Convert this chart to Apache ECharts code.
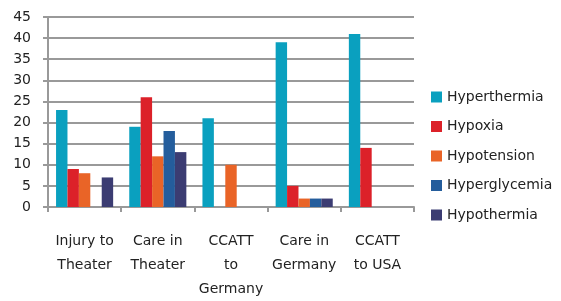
<!DOCTYPE html>
<html>
<head>
<meta charset="utf-8">
<title></title>
<script src="https://cdn.jsdelivr.net/npm/echarts@6/dist/echarts.min.js"></script>
</head>
<body style="margin:0;padding:0;background:#fff;">
<div id="main" style="width:561px;height:301px;"></div>
<script type="text/javascript">
var categories = ['Injury to\nTheater', 'Care in\nTheater', 'CCATT\nto\nGermany', 'Care in\nGermany', 'CCATT\nto USA'];
var seriesNames = ['Hyperthermia', 'Hypoxia', 'Hypotension', 'Hyperglycemia', 'Hypothermia'];
var hyperthermia = [23, 19, 21, 39, 41];
var hypoxia = [9, 26, 0, 5, 14];
var hypotension = [8, 12, 10, 2, 0];
var hyperglycemia = [0, 18, 0, 2, 0];
var hypothermia = [7, 13, 0, 2, 0];
var colors = ['#0aa0bf', '#dc2129', '#e96427', '#245d9c', '#3b3c72'];

var allData = [hyperthermia, hypoxia, hypotension, hyperglycemia, hypothermia];
var font = 'DejaVu Sans';

var series = [];
for (var i = 0; i < seriesNames.length; i++) {
    series.push({
        name: seriesNames[i],
        type: 'bar',
        data: allData[i],
        barGap: '0%',
        barCategoryGap: '22%',
        itemStyle: { color: colors[i] }
    });
}

var myChart = echarts.init(document.getElementById('main'));
var option = {
    animation: false,
    color: colors,
    grid: { left: 48, right: 147, top: 17, bottom: 89 },
    legend: {
        orient: 'vertical',
        left: 426,
        top: 85,
        itemWidth: 11,
        itemHeight: 11,
        itemGap: 15.5,
        icon: 'rect',
        textStyle: { fontFamily: font, fontSize: 14, color: '#222' },
        data: seriesNames
    },
    xAxis: {
        type: 'category',
        data: categories,
        axisLine: { lineStyle: { color: '#999', width: 2 } },
        axisTick: { show: true, length: 5, lineStyle: { color: '#999', width: 2 } },
        axisLabel: {
            margin: 22, fontFamily: font, fontSize: 14, color: '#222', lineHeight: 24,
            interval: 0
        }
    },
    yAxis: {
        type: 'value',
        min: 0,
        max: 45,
        interval: 5,
        axisLine: { show: true, lineStyle: { color: '#999', width: 2 } },
        axisTick: { show: true, length: 5, lineStyle: { color: '#999', width: 2 } },
        splitLine: { lineStyle: { color: '#999', width: 2 } },
        axisLabel: { margin: 17, fontFamily: font, fontSize: 14, color: '#222' }
    },
    series: series
};
myChart.setOption(option);
</script>
</body>
</html>
